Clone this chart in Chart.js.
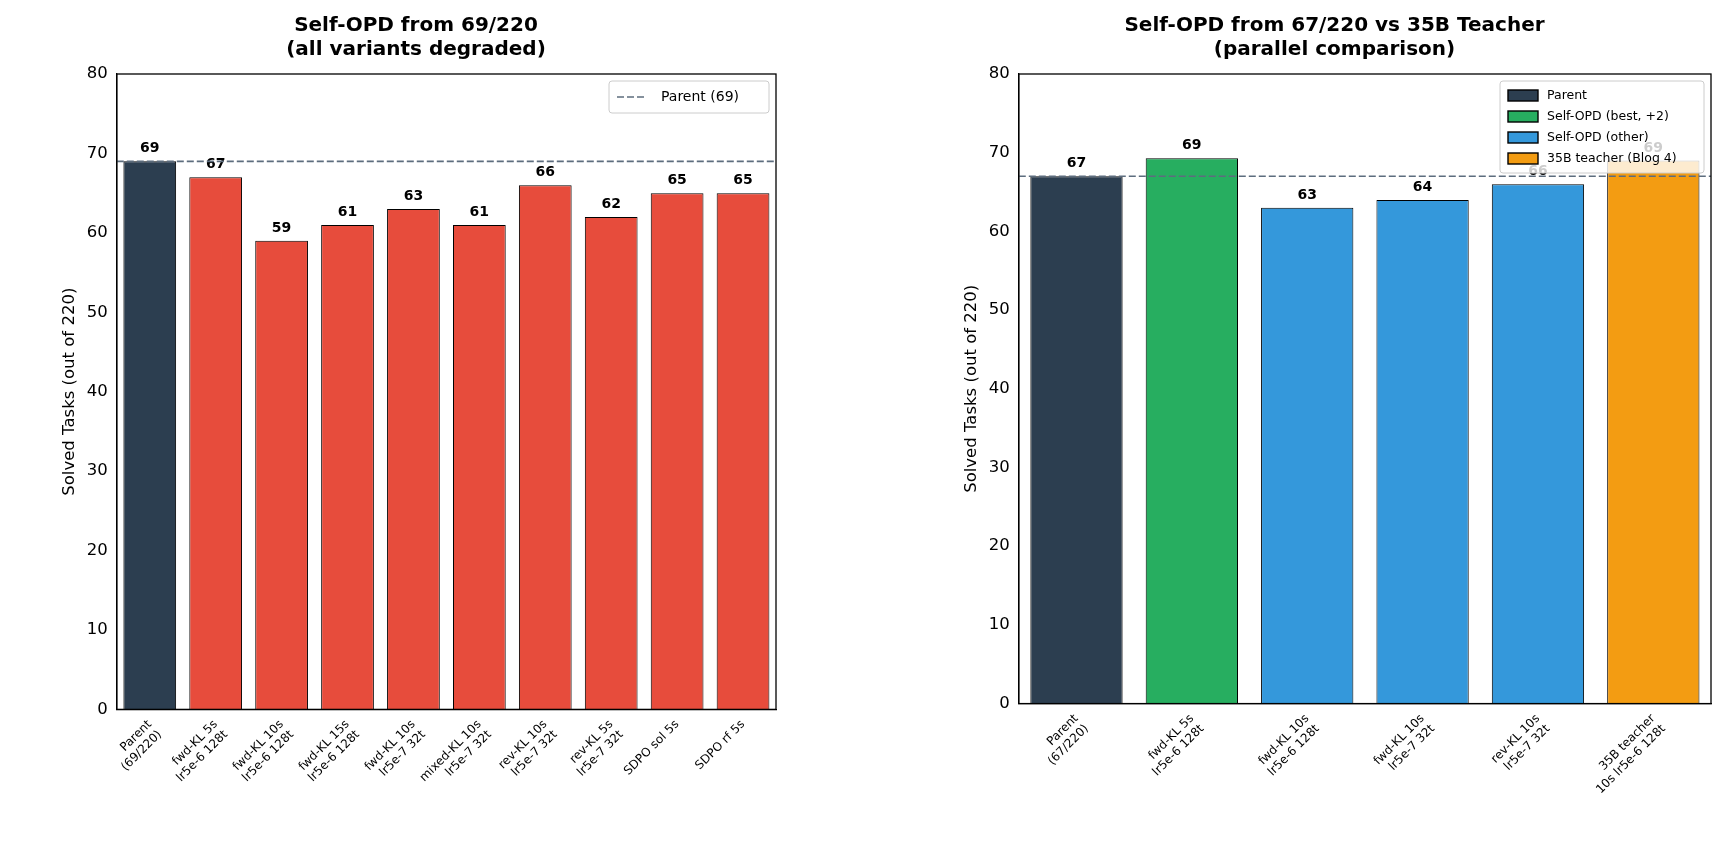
<!DOCTYPE html>
<html><head><meta charset="utf-8">
<script src="https://cdn.jsdelivr.net/npm/chart.js"></script>
<style>
body{margin:0;background:#fff;font-family:"DejaVu Sans",sans-serif}
.wrap{position:absolute;top:0;height:847px}
</style></head><body>
<div class="wrap" style="left:0;width:860px"><canvas id="left"></canvas></div>
<div class="wrap" style="left:850px;width:877px"><canvas id="right"></canvas></div>
<script>
// left panel
const leftLabels = [['Parent','(69/220)'],['fwd-KL 5s','lr5e-6 128t'],['fwd-KL 10s','lr5e-6 128t'],['fwd-KL 15s','lr5e-6 128t'],['fwd-KL 10s','lr5e-7 32t'],['mixed-KL 10s','lr5e-7 32t'],['rev-KL 10s','lr5e-7 32t'],['rev-KL 5s','lr5e-7 32t'],['SDPO sol 5s'],['SDPO rf 5s']];
const leftValues = [69, 67, 59, 61, 63, 61, 66, 62, 65, 65];
const leftColors = ['#2c3e50','#e74c3c','#e74c3c','#e74c3c','#e74c3c','#e74c3c','#e74c3c','#e74c3c','#e74c3c','#e74c3c'];
const leftParent = 69;

// right panel
const rightLabels = [['Parent','(67/220)'],['fwd-KL 5s','lr5e-6 128t'],['fwd-KL 10s','lr5e-6 128t'],['fwd-KL 10s','lr5e-7 32t'],['rev-KL 10s','lr5e-7 32t'],['35B teacher','10s lr5e-6 128t']];
const rightValues = [67, 69.3, 63, 64, 66, 69];
const rightColors = ['#2c3e50','#27ae60','#3498db','#3498db','#3498db','#f39c12'];
const rightParent = 67;
const rightLegend = [['Parent','#2c3e50'],['Self-OPD (best, +2)','#27ae60'],['Self-OPD (other)','#3498db'],['35B teacher (Blog 4)','#f39c12']];

const yTicks = [0,10,20,30,40,50,60,70,80];
const FONT = '"DejaVu Sans", sans-serif';

function overlay(parent, legendItems, dashedLegend) {
  return {
    id: 'overlay',
    afterDatasetsDraw(chart) {
      const c = chart.ctx, a = chart.chartArea, y = chart.scales.y;
      const meta = chart.getDatasetMeta(0);
      // value labels
      c.save();
      c.font = 'bold 14px ' + FONT;
      c.fillStyle = '#000';
      c.textAlign = 'center';
      meta.data.forEach((b, i) => {
        c.fillText(Math.round(chart.data.datasets[0].data[i]), b.x, b.y - 9);
      });
      // parent line
      const py = y.getPixelForValue(parent);
      c.strokeStyle = '#5d6d7e';
      c.lineWidth = 1.6;
      c.setLineDash([7, 3]);
      c.beginPath(); c.moveTo(a.left, py); c.lineTo(a.right, py); c.stroke();
      c.setLineDash([]);
      // legend box
      const lh = 21;
      let w, h;
      if (dashedLegend) { w = 160; h = 32; } else { w = 204; h = legendItems.length * lh + 8; }
      const x0 = a.right - w - 7, y0 = a.top + 7;
      c.fillStyle = 'rgba(255,255,255,0.8)';
      c.strokeStyle = '#ccc'; c.lineWidth = 1;
      c.beginPath(); c.roundRect(x0, y0, w, h, 3); c.fill(); c.stroke();
      c.textAlign = 'left'; c.textBaseline = 'middle';
      if (dashedLegend) {
        c.strokeStyle = '#5d6d7e'; c.lineWidth = 1.6; c.setLineDash([7, 3]);
        c.beginPath(); c.moveTo(x0 + 8, y0 + 16); c.lineTo(x0 + 38, y0 + 16); c.stroke();
        c.setLineDash([]);
        c.fillStyle = '#000'; c.font = '14px ' + FONT;
        c.fillText(dashedLegend, x0 + 52, y0 + 16);
      } else {
        c.font = '12.5px ' + FONT;
        legendItems.forEach((it, i) => {
          const cy = y0 + 14 + i * lh;
          c.fillStyle = it[1]; c.fillRect(x0 + 8, cy - 5, 30, 11);
          c.strokeStyle = '#000'; c.lineWidth = 1.4; c.strokeRect(x0 + 8, cy - 5, 30, 11);
          c.fillStyle = '#000'; c.fillText(it[0], x0 + 47, cy + 1);
        });
      }
      c.restore();
    }
  };
}

function makeChart(id, labels, values, colors, title, parent, legendItems, dashedLegend, pad, barPct) {
  new Chart(document.getElementById(id), {
    type: 'bar',
    data: { labels: labels, datasets: [{ data: values, backgroundColor: colors, borderColor: '#000', borderWidth: 1, categoryPercentage: 1, barPercentage: barPct }] },
    options: {
      responsive: true, maintainAspectRatio: false, animation: false,
      layout: { padding: pad },
      plugins: {
        legend: { display: false }, tooltip: { enabled: false },
        title: { display: true, text: title, font: { family: FONT, size: 20, weight: 'bold' }, color: '#000', padding: { top: 0, bottom: 12 }, lineHeight: 1.2 }
      },
      scales: {
        x: {
          offset: true,
          grid: { display: false, drawTicks: true, tickLength: 6 },
          border: { color: '#000', width: 1.3 },
          ticks: { color: '#000', font: { family: FONT, size: 12 }, maxRotation: 45, minRotation: 45, autoSkip: false, padding: 2 }
        },
        y: {
          min: 0, max: 80,
          afterBuildTicks(s) { s.ticks = yTicks.map(v => ({ value: v })); },
          grid: { display: false, drawTicks: true, tickLength: 6 },
          border: { color: '#000', width: 1.3 },
          ticks: { color: '#000', font: { family: FONT, size: 16.5 } },
          title: { display: true, text: 'Solved Tasks (out of 220)', color: '#000', font: { family: FONT, size: 16.5 } }
        }
      }
    },
    plugins: [overlay(parent, legendItems, dashedLegend), {
      id: 'frame',
      afterDraw(chart) {
        const c = chart.ctx, a = chart.chartArea;
        c.save(); c.strokeStyle = '#000'; c.lineWidth = 1.3;
        c.strokeRect(a.left, a.top, a.right - a.left, a.bottom - a.top); c.restore();
      }
    }]
  });
}

makeChart('left', leftLabels, leftValues, leftColors, ['Self-OPD from 69/220', '(all variants degraded)'], leftParent, null, 'Parent (69)', { top: 14, left: 56, right: 84, bottom: 50 }, 0.8);
makeChart('right', rightLabels, rightValues, rightColors, ['Self-OPD from 67/220 vs 35B Teacher', '(parallel comparison)'], rightParent, rightLegend, null, { top: 14, left: 108, right: 16, bottom: 48 }, 0.8);
</script>
</body></html>
